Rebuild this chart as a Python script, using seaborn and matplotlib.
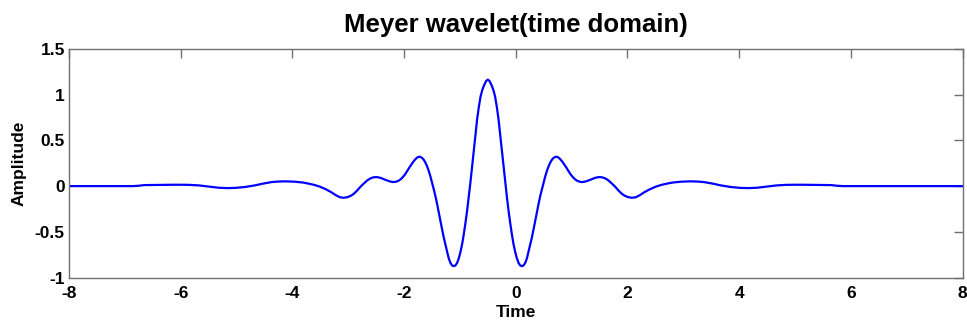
import matplotlib
matplotlib.use("Agg")
import matplotlib.pyplot as plt
import seaborn as sns
import pandas as pd

# Values (time, amplitude)
time_vals = [
    -8.00, -7.40, -6.85, -6.75, -6.65, -6.40, -6.10, -5.86, -5.68, -5.50,
    -5.32, -5.17, -5.03, -4.85, -4.67, -4.52, -4.37, -4.25, -4.13, -3.95,
    -3.80, -3.70, -3.60, -3.50, -3.40, -3.30, -3.22, -3.15, -3.08, -3.01,
    -2.95, -2.90, -2.85, -2.80, -2.75, -2.70, -2.66, -2.61, -2.55, -2.49,
    -2.42, -2.34, -2.25, -2.19, -2.15, -2.10, -2.06, -2.02, -1.98, -1.95,
    -1.92, -1.89, -1.86, -1.83, -1.80, -1.77, -1.74, -1.71, -1.68, -1.65,
    -1.62, -1.59, -1.56, -1.53, -1.50, -1.47, -1.44, -1.41, -1.38, -1.35,
    -1.32, -1.29, -1.26, -1.23, -1.20, -1.17, -1.14, -1.11, -1.08, -1.05,
    -1.02, -0.99, -0.96, -0.93, -0.90, -0.87, -0.84, -0.81, -0.78, -0.75,
    -0.72, -0.69, -0.66, -0.63, -0.60, -0.57, -0.53, -0.50,
    -0.47, -0.43, -0.40, -0.37, -0.34, -0.31, -0.28, -0.25, -0.22, -0.19,
    -0.16, -0.13, -0.10, -0.07, -0.04, -0.01, 0.02, 0.05, 0.08, 0.11,
    0.14, 0.17, 0.20, 0.23, 0.26, 0.29, 0.32, 0.35, 0.38, 0.41,
    0.44, 0.47, 0.50, 0.53, 0.56, 0.59, 0.62, 0.65, 0.68, 0.71,
    0.74, 0.77, 0.80, 0.83, 0.86, 0.89, 0.92, 0.95, 0.98, 1.02,
    1.06, 1.10, 1.15, 1.19, 1.25, 1.34, 1.42, 1.49, 1.55, 1.61,
    1.66, 1.70, 1.75, 1.80, 1.85, 1.90, 1.95, 2.01, 2.08, 2.15,
    2.22, 2.30, 2.40, 2.50, 2.60, 2.70, 2.80, 2.95, 3.13, 3.25,
    3.37, 3.52, 3.67, 3.85, 4.03, 4.17, 4.32, 4.50, 4.68, 4.86,
    5.10, 5.40, 5.65, 5.75, 5.85, 6.40, 7.00, 8.00,
]
amplitude_vals = [
    0.000, 0.000, 0.000, 0.004, 0.011, 0.013, 0.015, 0.014, 0.008, -0.005,
    -0.018, -0.022, -0.020, -0.010, 0.008, 0.028, 0.044, 0.050, 0.052, 0.048,
    0.038, 0.026, 0.012, -0.008, -0.035, -0.068, -0.100, -0.122, -0.128, -0.120,
    -0.105, -0.084, -0.055, -0.020, 0.012, 0.040, 0.062, 0.082, 0.096, 0.099,
    0.090, 0.070, 0.050, 0.044, 0.047, 0.058, 0.075, 0.100, 0.130, 0.158,
    0.188, 0.218, 0.245, 0.270, 0.292, 0.310, 0.320, 0.320, 0.310, 0.290,
    0.260, 0.220, 0.170, 0.110, 0.040, -0.030, -0.105, -0.190, -0.285, -0.380,
    -0.470, -0.560, -0.640, -0.715, -0.790, -0.840, -0.868, -0.876, -0.868, -0.840,
    -0.790, -0.720, -0.635, -0.525, -0.400, -0.265, -0.110, 0.050, 0.220, 0.390,
    0.570, 0.740, 0.870, 0.980, 1.050, 1.100, 1.150, 1.165,
    1.150, 1.100, 1.050, 0.980, 0.870, 0.740, 0.570, 0.390, 0.220, 0.050,
    -0.110, -0.265, -0.400, -0.525, -0.635, -0.720, -0.790, -0.840, -0.868, -0.876,
    -0.868, -0.840, -0.790, -0.715, -0.640, -0.560, -0.470, -0.380, -0.285, -0.190,
    -0.105, -0.030, 0.040, 0.110, 0.170, 0.220, 0.260, 0.290, 0.310, 0.320,
    0.320, 0.310, 0.292, 0.270, 0.245, 0.218, 0.188, 0.158, 0.130, 0.100,
    0.075, 0.058, 0.047, 0.044, 0.050, 0.070, 0.090, 0.099, 0.096, 0.082,
    0.062, 0.040, 0.012, -0.020, -0.055, -0.084, -0.105, -0.120, -0.128, -0.122,
    -0.100, -0.068, -0.035, -0.008, 0.012, 0.026, 0.038, 0.048, 0.052, 0.050,
    0.044, 0.028, 0.008, -0.010, -0.020, -0.022, -0.018, -0.005, 0.008, 0.014,
    0.015, 0.013, 0.011, 0.004, 0.000, 0.000, 0.000, 0.000,
]
x_ticks = [-8, -6, -4, -2, 0, 2, 4, 6, 8]
y_ticks = [-1, -0.5, 0, 0.5, 1, 1.5]
y_tick_labels = ["-1", "-0.5", "0", "0.5", "1", "1.5"]

df = pd.DataFrame({"Time": time_vals, "Amplitude": amplitude_vals})

sns.set_style("white")
plt.rcParams["font.family"] = ["Liberation Sans", "DejaVu Sans"]
plt.rcParams["font.weight"] = "bold"
plt.rcParams["text.color"] = "black"
plt.rcParams["axes.labelcolor"] = "black"
plt.rcParams["xtick.color"] = "black"
plt.rcParams["ytick.color"] = "black"

fig = plt.figure(figsize=(9.67, 3.24), dpi=100)
ax = fig.add_axes([69 / 967, 1 - 277.5 / 324, (962.5 - 69) / 967, (277.5 - 49) / 324])

sns.lineplot(data=df, x="Time", y="Amplitude", ax=ax, color="#0000ff",
             linewidth=1.6, estimator=None, sort=False)

ax.set_xlim(-8, 8)
ax.set_ylim(-1, 1.5)
ax.set_xticks(x_ticks)
ax.set_xticklabels([str(t) for t in x_ticks])
ax.set_yticks(y_ticks)
ax.set_yticklabels(y_tick_labels)

gray = "#707070"
for s in ax.spines.values():
    s.set_visible(True)
    s.set_color(gray)
    s.set_linewidth(1.0)
ax.tick_params(direction="in", top=True, right=True, length=6.5, width=1.0,
               color=gray, labelcolor="black", labelsize=12.5)
ax.tick_params(axis="x", pad=6)
ax.tick_params(axis="y", pad=3)
for lab in ax.get_xticklabels() + ax.get_yticklabels():
    lab.set_fontweight("bold")
    lab.set_color("black")

ax.set_xlabel("Time", fontsize=12.5, fontweight="bold", labelpad=3, color="black")
ax.set_ylabel("Amplitude", fontsize=12.5, fontweight="bold", labelpad=6, color="black")
ax.set_title("Meyer wavelet(time domain)", fontsize=18.5, fontweight="bold",
             pad=12, color="black")

fig.savefig("out.png", dpi=100, facecolor="white")
